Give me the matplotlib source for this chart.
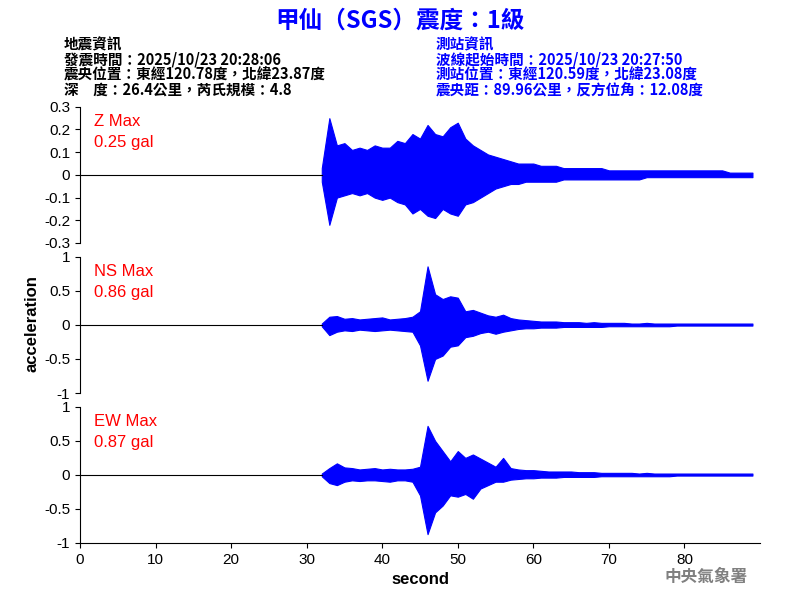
import numpy as np
import matplotlib.pyplot as plt

plt.rcParams['font.family'] = ['Noto Sans CJK TC', 'DejaVu Sans']

# envelope of the record, one value per second from t=32 s to t=89 s
t_env = list(range(32, 90))
z_up = [0.03, 0.25, 0.13, 0.14, 0.11, 0.12, 0.11, 0.13, 0.12, 0.12, 0.15, 0.14, 0.18, 0.16,
        0.22, 0.18, 0.17, 0.21, 0.23, 0.16, 0.13, 0.11, 0.09, 0.08, 0.07, 0.06, 0.05, 0.05,
        0.05, 0.04, 0.04, 0.04, 0.03, 0.03, 0.03, 0.03, 0.03, 0.03, 0.02, 0.02, 0.02, 0.02,
        0.02, 0.02, 0.02, 0.02, 0.02, 0.02, 0.02, 0.02, 0.02, 0.02, 0.02, 0.02, 0.01, 0.01,
        0.01, 0.01]
z_lo = [-0.03, -0.22, -0.10, -0.09, -0.08, -0.09, -0.08, -0.10, -0.11, -0.10, -0.12, -0.13, -0.17, -0.15,
        -0.18, -0.19, -0.15, -0.17, -0.18, -0.13, -0.12, -0.10, -0.08, -0.06, -0.05, -0.04, -0.04, -0.03,
        -0.03, -0.03, -0.03, -0.03, -0.02, -0.02, -0.02, -0.02, -0.02, -0.02, -0.02, -0.02, -0.02, -0.02,
        -0.02, -0.01, -0.01, -0.01, -0.01, -0.01, -0.01, -0.01, -0.01, -0.01, -0.01, -0.01, -0.01, -0.01,
        -0.01, -0.01]
ns_up = [0.02, 0.12, 0.13, 0.09, 0.10, 0.08, 0.09, 0.10, 0.11, 0.08, 0.09, 0.10, 0.12, 0.20,
         0.86, 0.45, 0.38, 0.42, 0.40, 0.20, 0.22, 0.18, 0.14, 0.12, 0.15, 0.10, 0.08, 0.07,
         0.06, 0.05, 0.05, 0.05, 0.04, 0.04, 0.04, 0.03, 0.04, 0.03, 0.03, 0.03, 0.03, 0.02,
         0.02, 0.03, 0.02, 0.02, 0.02, 0.02, 0.02, 0.02, 0.02, 0.02, 0.02, 0.02, 0.02, 0.02,
         0.02, 0.02]
ns_lo = [-0.02, -0.15, -0.10, -0.08, -0.09, -0.07, -0.08, -0.09, -0.08, -0.07, -0.08, -0.09, -0.10, -0.30,
         -0.82, -0.50, -0.45, -0.32, -0.30, -0.18, -0.16, -0.12, -0.10, -0.13, -0.10, -0.08, -0.06, -0.05,
         -0.05, -0.04, -0.04, -0.04, -0.03, -0.03, -0.03, -0.03, -0.03, -0.03, -0.02, -0.02, -0.02, -0.02,
         -0.02, -0.02, -0.02, -0.02, -0.02, -0.01, -0.01, -0.01, -0.01, -0.01, -0.01, -0.01, -0.01, -0.01,
         -0.01, -0.01]
ew_up = [0.02, 0.10, 0.17, 0.11, 0.10, 0.08, 0.09, 0.10, 0.08, 0.09, 0.08, 0.08, 0.09, 0.12,
         0.72, 0.50, 0.35, 0.20, 0.35, 0.25, 0.30, 0.24, 0.18, 0.12, 0.25, 0.10, 0.08, 0.07,
         0.07, 0.06, 0.05, 0.05, 0.05, 0.05, 0.04, 0.04, 0.04, 0.03, 0.03, 0.03, 0.03, 0.03,
         0.02, 0.03, 0.02, 0.02, 0.02, 0.02, 0.02, 0.02, 0.02, 0.02, 0.02, 0.02, 0.02, 0.02,
         0.02, 0.02]
ew_lo = [-0.02, -0.12, -0.15, -0.10, -0.08, -0.09, -0.08, -0.08, -0.09, -0.10, -0.08, -0.08, -0.10, -0.30,
         -0.87, -0.55, -0.45, -0.30, -0.32, -0.28, -0.35, -0.20, -0.15, -0.10, -0.10, -0.07, -0.06, -0.05,
         -0.05, -0.04, -0.04, -0.04, -0.03, -0.03, -0.03, -0.03, -0.03, -0.02, -0.02, -0.02, -0.02, -0.02,
         -0.02, -0.02, -0.02, -0.02, -0.02, -0.01, -0.01, -0.01, -0.01, -0.01, -0.01, -0.01, -0.01, -0.01,
         -0.01, -0.01]

components = ["Z", "NS", "EW"]
max_gal = ["0.25", "0.86", "0.87"]
ylims = [0.3, 1.0, 1.0]
yticks = [[-0.3, -0.2, -0.1, 0, 0.1, 0.2, 0.3], [-1, -0.5, 0, 0.5, 1], [-1, -0.5, 0, 0.5, 1]]
ytick_labels = [["-0.3", "-0.2", "-0.1", "0", "0.1", "0.2", "0.3"],
                ["-1", "-0.5", "0", "0.5", "1"], ["-1", "-0.5", "0", "0.5", "1"]]
envelopes = [(z_up, z_lo), (ns_up, ns_lo), (ew_up, ew_lo)]

fig = plt.figure(figsize=(8, 6), dpi=100)
panel_box = [(0.822, 0.595), (0.572, 0.345), (0.322, 0.095)]

for i, comp in enumerate(components):
    top, bottom = panel_box[i]
    ax = fig.add_axes([0.1, bottom, 0.85, top - bottom])
    up, lo = envelopes[i]
    ax.plot([0, t_env[0]], [0, 0], color="black", lw=0.8)
    ax.fill_between(t_env, lo, up, color="blue", lw=0.8, edgecolor="blue")
    ax.set_xlim(0, 90)
    ax.set_ylim(-ylims[i], ylims[i])
    ax.set_yticks(yticks[i])
    ax.set_yticklabels(ytick_labels[i], fontsize=11, family="Liberation Sans")
    for s in ["top", "right"]:
        ax.spines[s].set_visible(False)
    if i < 2:
        ax.spines["bottom"].set_visible(False)
        ax.set_xticks([])
    else:
        ax.set_xticks(range(0, 90, 10))
        ax.set_xticklabels([str(v) for v in range(0, 90, 10)], fontsize=11, family="Liberation Sans")
        ax.set_xlabel("second", fontsize=12, fontweight="bold", family="Liberation Sans")
    ax.text(0.02, 0.95, f"{comp} Max\n{max_gal[i]} gal", transform=ax.transAxes, color="red",
            fontsize=12, va="top", linespacing=1.5, family="Liberation Sans")

fig.text(0.04, 0.46, "acceleration", rotation=90, ha="center", va="center",
         fontsize=12, fontweight="bold", family="Liberation Sans")

fig.text(0.5, 0.965, "甲仙（SGS）震度：1級", color="blue", fontsize=17, fontweight="bold",
         ha="center", va="center")
left_info = "地震資訊\n發震時間：2025/10/23 20:28:06\n震央位置：東經120.78度，北緯23.87度\n深　度：26.4公里，芮氏規模：4.8"
right_info = "測站資訊\n波線起始時間：2025/10/23 20:27:50\n測站位置：東經120.59度，北緯23.08度\n震央距：89.96公里，反方位角：12.08度"
fig.text(0.08, 0.94, left_info, fontsize=10.5, fontweight="bold", va="top", linespacing=0.95)
fig.text(0.545, 0.94, right_info, fontsize=10.5, fontweight="bold", va="top", color="blue",
         linespacing=0.95)
fig.text(0.935, 0.03, "中央氣象署", color="gray", fontsize=12, fontweight="bold", ha="right")

fig.savefig("out.png", dpi=100)
